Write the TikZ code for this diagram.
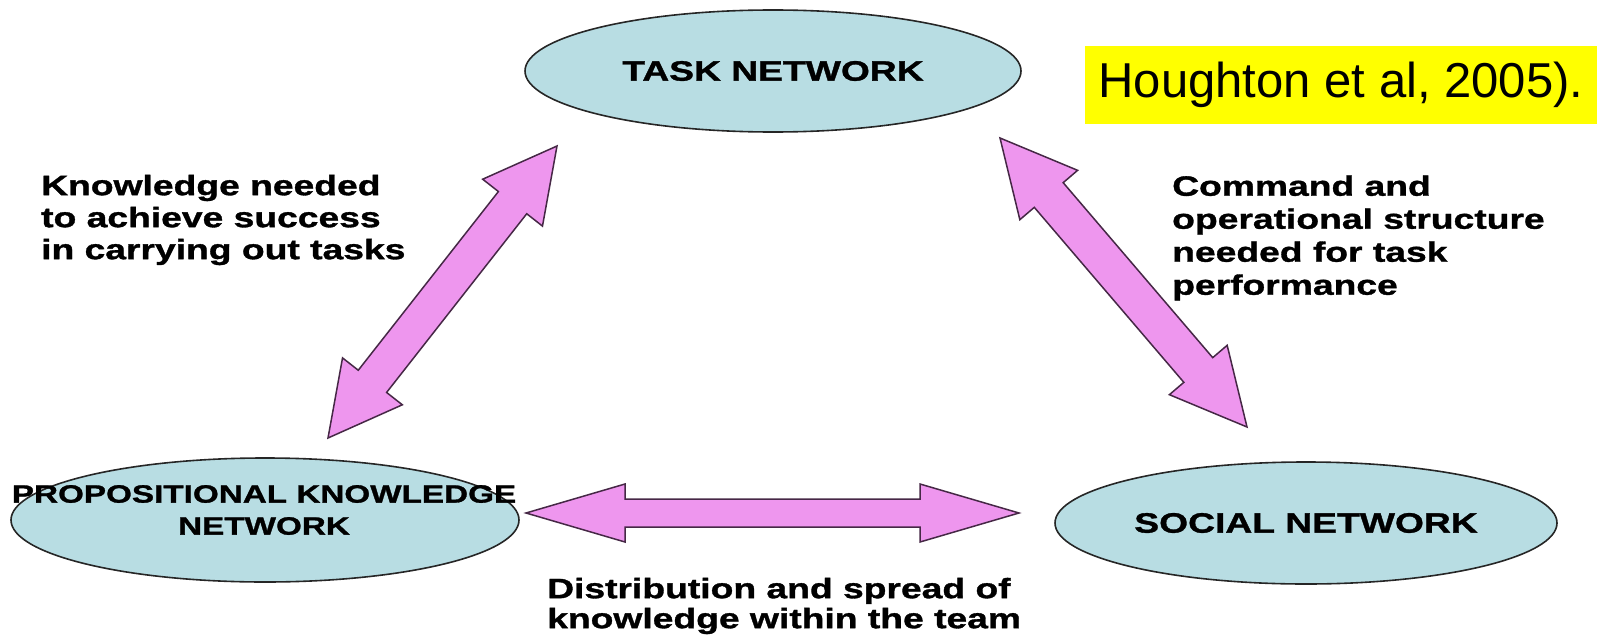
\documentclass[tikz,border=0pt]{standalone}
\usepackage{fontspec}
\newfontfamily\diagfont[FakeStretch=1.33, FakeBold=1.2]{Liberation Sans}
\newfontfamily\citefont{Liberation Sans}
\usetikzlibrary{shapes.geometric, calc}

\definecolor{netblue}{RGB}{184,221,227}
\definecolor{arrowpink}{RGB}{238,150,238}
\definecolor{arrowedge}{RGB}{70,40,70}
\definecolor{citeyellow}{RGB}{255,255,0}

\tikzset{
  net/.style={ellipse, draw=black!85, line width=1.6pt, fill=netblue, inner sep=0pt,
    font=\diagfont\bfseries\fontsize{28}{32}\selectfont},
  lbl/.style={inner sep=0pt, align=left, font=\diagfont\bfseries\fontsize{28}{32}\selectfont},
  arrowbody/.style={fill=arrowpink, draw=arrowedge, line width=1.5pt, line join=miter},
}

% #1,#2 tips, #3 half shaft, #4 half head, #5 head length
\newcommand{\fatarrow}[5]{%
  \coordinate (h1) at ($(#1)!#5!(#2)$);
  \coordinate (h2) at ($(#2)!#5!(#1)$);
  \draw [arrowbody] (#1) -- ($(h1)!#4!90:(#2)$) -- ($(h1)!#3!90:(#2)$)
    -- ($(h2)!#3!-90:(#1)$) -- ($(h2)!#4!-90:(#1)$) -- (#2)
    -- ($(h2)!#4!90:(#1)$) -- ($(h2)!#3!90:(#1)$)
    -- ($(h1)!#3!-90:(#2)$) -- ($(h1)!#4!-90:(#2)$) -- cycle;
}

\begin{document}
\begin{tikzpicture}[x=1pt, y=-1pt]
\useasboundingbox (0,0) rectangle (1597,634);

\node [net, minimum width=496pt, minimum height=122pt] (task) at (773,71) {TASK NETWORK};
\node [net, minimum width=508pt, minimum height=124pt] (prop) at (265,520) {};
\node [lbl, align=center, font=\diagfont\bfseries\fontsize{25}{32}\selectfont] (proptext)
  at (264,510) {PROPOSITIONAL KNOWLEDGE\\NETWORK};
\node [net, minimum width=502pt, minimum height=122pt] (social) at (1306,523) {SOCIAL NETWORK};

\node [fill=citeyellow, minimum width=512pt, minimum height=78pt, inner sep=0pt,
  font=\citefont\fontsize{49}{58}\selectfont] (cite) at (1341,85) {Houghton et al, 2005).};

\coordinate (kt1) at (328,438);
\coordinate (kt2) at (557,146);
\coordinate (ct1) at (1000,138);
\coordinate (ct2) at (1247,427);
\coordinate (dk1) at (526,513);
\coordinate (dk2) at (1019,513);

\fatarrow{kt1}{kt2}{18pt}{38pt}{72pt}
\fatarrow{ct1}{ct2}{19pt}{38pt}{75pt}
\fatarrow{dk1}{dk2}{14pt}{29pt}{99pt}

\node [lbl, anchor=west] (knowtext) at (41,220)
  {Knowledge needed\\to achieve success\\in carrying out tasks};
\node [lbl, anchor=west, font=\diagfont\bfseries\fontsize{28}{33}\selectfont] (cmdtext) at (1172,238)
  {Command and\\operational structure\\needed for task\\performance};
\node [lbl, anchor=west, font=\diagfont\bfseries\fontsize{28}{30}\selectfont] (disttext) at (547,606)
  {Distribution and spread of\\knowledge within the team};
\end{tikzpicture}
\end{document}
